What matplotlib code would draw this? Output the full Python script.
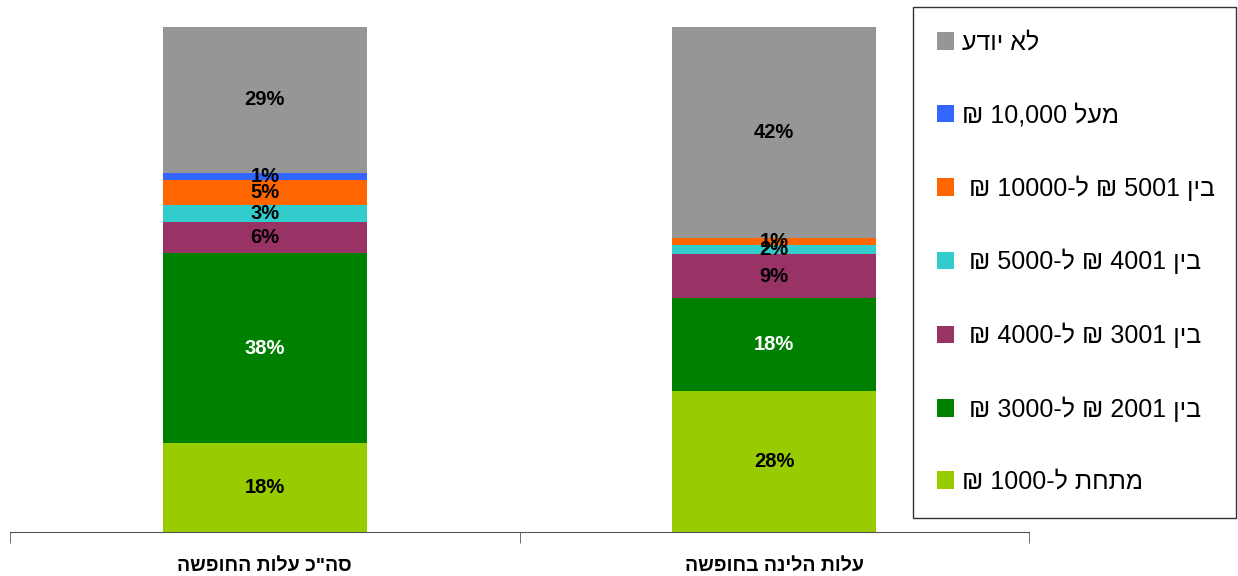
import re

import matplotlib
matplotlib.use("Agg")
import matplotlib.pyplot as plt
from matplotlib.patches import Patch

plt.rcParams["font.family"] = ["Liberation Sans", "DejaVu Sans"]

# categories (logical Hebrew order), left to right on the x axis
categories = ['סה"כ עלות החופשה', "עלות הלינה בחופשה"]

# series, bottom of the stack first
series = ["מתחת ל-1000 ₪",
          "בין 2001 ₪ ל-3000 ₪ ",
          "בין 3001 ₪ ל-4000 ₪ ",
          "בין 4001 ₪ ל-5000 ₪ ",
          "בין 5001 ₪ ל-10000 ₪ ",
          "מעל 10,000 ₪",
          "לא יודע"]
colors = ["#99CC00", "#008000", "#993366", "#33CCCC", "#FF6600", "#3366FF",
          "#969696"]
label_colors = ["black", "white", "black", "black", "black", "black", "black"]

# percent per series, one value per category
values = [
    [17.6, 27.9],
    [37.6, 18.4],
    [6.1, 8.7],
    [3.4, 1.8],
    [5.0, 1.4],
    [1.4, 0.0],
    [28.9, 41.8],
]


def vis(s):
    # matplotlib draws left to right, so put the Hebrew into visual order
    r = s[::-1]
    return re.sub(r"[0-9][0-9,.]*", lambda m: m.group(0)[::-1], r)


fig = plt.figure(figsize=(12.38, 5.76), dpi=100)
ax = fig.add_axes([10 / 1238, 1 - 532 / 576, 1019 / 1238, 505 / 576])

x = list(range(len(categories)))
bottom = [0.0] * len(categories)
handles = []
for name, vals, c, lc in zip(series, values, colors, label_colors):
    ax.bar(x, vals, width=0.4, bottom=bottom, color=c, linewidth=0)
    for xi, v, b in zip(x, vals, bottom):
        if v > 0:
            ax.text(xi, b + v / 2, f"{round(v)}%", ha="center", va="center",
                    fontsize=14.5, fontweight="bold", color=lc)
    bottom = [b + v for b, v in zip(bottom, vals)]
    handles.append(Patch(facecolor=c, label=vis(name)))

ax.set_xlim(-0.5, 1.5)
ax.set_ylim(0, 100)
for s in ["top", "left", "right"]:
    ax.spines[s].set_visible(False)
ax.spines["bottom"].set_color("#555555")
ax.set_yticks([])
ax.set_xticks(x)
ax.set_xticklabels([vis(c) for c in categories], fontsize=14,
                   fontweight="bold")
ax.tick_params(axis="x", which="major", length=0, pad=19)
ax.set_xticks([-0.5, 0.5, 1.5], minor=True)
ax.tick_params(axis="x", which="minor", length=8, color="#555555")

leg = fig.legend(handles=handles[::-1], loc="upper left",
                 bbox_to_anchor=(913 / 1238, 1 - 518 / 576, 323 / 1238,
                                 511 / 576),
                 mode="expand", fontsize=18, frameon=True, fancybox=False,
                 edgecolor="black", handlelength=0.7, handleheight=0.7,
                 handletextpad=0.3, labelspacing=1.93, borderpad=0.95,
                 borderaxespad=0)
leg.get_frame().set_linewidth(1)

fig.savefig("out.png", dpi=100)
